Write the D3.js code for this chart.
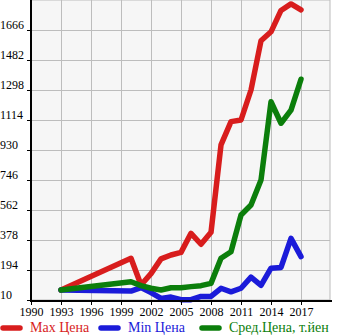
<!DOCTYPE html>
<html>
<head>
<meta charset="utf-8">
<script src="https://cdn.jsdelivr.net/npm/d3@7"></script>
<style>
  html, body { margin: 0; padding: 0; background: #fff; }
  svg { display: block; font-family: "Liberation Serif", "Times New Roman", serif; }
</style>
</head>
<body>
<svg id="chart" width="345" height="335"></svg>
<script>
// Price history by model year
const years = [1993, 2000, 2001, 2002, 2003, 2004, 2005, 2006, 2007, 2008, 2009, 2010, 2011, 2012, 2013, 2014, 2015, 2016, 2017];
const maxPrice = [71, 266, 102, 172, 262, 286, 302, 419, 352, 425, 961, 1104, 1114, 1298, 1600, 1655, 1786, 1826, 1789];
const minPrice = [71, 65, 86, 55, 20, 28, 12, 12, 32, 32, 82, 60, 82, 150, 100, 205, 210, 388, 276];
const avgPrice = [71, 122, 98, 82, 71, 85, 85, 92, 98, 112, 266, 306, 531, 593, 746, 1226, 1094, 1175, 1364];

const xTicks = [1990, 1993, 1996, 1999, 2002, 2005, 2008, 2011, 2014, 2017];
const yTicks = [10, 194, 378, 562, 746, 930, 1114, 1298, 1482, 1666];

const seriesNames = ["Max Цена", "Min Цена", "Сред.Цена, т.йен"];
const seriesColors = ["#d81d1d", "#1b1bd9", "#0b7e0b"];

const svg = d3.select("#chart");
const plotL = 31, plotR = 330, plotT = 0, plotB = 300;

const x = d3.scaleLinear().domain([1990, 2019.9]).range([plotL, plotR]);
const y = d3.scaleLinear().domain([10, 1850]).range([plotB, plotT]);

// plot background
svg.append("rect")
  .attr("x", plotL).attr("y", plotT)
  .attr("width", plotR - plotL).attr("height", plotB - plotT)
  .attr("fill", "#f6f6f6").attr("stroke", "#bbb").attr("stroke-width", 1);

// grid
const grid = svg.append("g").attr("stroke", "#bdbdbd").attr("stroke-width", 1).attr("shape-rendering", "crispEdges");
xTicks.forEach(t => grid.append("line")
  .attr("x1", Math.round(x(t)) + 0.5).attr("x2", Math.round(x(t)) + 0.5)
  .attr("y1", plotT).attr("y2", plotB));
yTicks.forEach(t => grid.append("line")
  .attr("x1", plotL).attr("x2", plotR)
  .attr("y1", Math.round(y(t)) + 0.5).attr("y2", Math.round(y(t)) + 0.5));

// series lines
const line = d3.line().x((d, i) => x(years[i])).y(d => y(d));
[maxPrice, minPrice, avgPrice].forEach((vals, k) => {
  svg.append("path")
    .datum(vals)
    .attr("d", line)
    .attr("fill", "none")
    .attr("stroke", seriesColors[k])
    .attr("stroke-width", 5.5)
    .attr("stroke-linejoin", "round")
    .attr("stroke-linecap", "round");
});

// axes
const xAxis = d3.axisBottom(x).tickValues(xTicks).tickFormat(d3.format("d")).tickSize(4).tickPadding(2);
const gx = svg.append("g").attr("transform", `translate(0,${plotB + 1})`).call(xAxis);
gx.select(".domain").attr("stroke", "#000").attr("stroke-width", 2).attr("d", `M${plotL - 1},0H${plotR + 2}`);
gx.selectAll(".tick line").attr("stroke", "#000");
gx.selectAll(".tick text")
  .attr("font-family", "Liberation Serif, serif")
  .attr("font-size", 12).attr("fill", "#000");

const yAxis = d3.axisLeft(y).tickValues(yTicks).tickSize(4).tickFormat(d3.format("d"));
const gy = svg.append("g").attr("transform", `translate(${plotL},0)`).call(yAxis);
gy.select(".domain").attr("stroke", "#000").attr("stroke-width", 2).attr("d", `M0,${plotT}V${plotB + 2}`);
gy.selectAll(".tick line").attr("stroke", "#000");
gy.selectAll(".tick text")
  .attr("font-family", "Liberation Serif, serif")
  .attr("font-size", 12).attr("fill", "#000")
  .attr("text-anchor", "start")
  .attr("x", -plotL)
  .attr("dy", "-0.1em");

// legend
const legendPos = [0, 98, 199];
const lg = svg.append("g");
seriesNames.forEach((name, k) => {
  const lx = legendPos[k];
  lg.append("line")
    .attr("x1", lx + 3).attr("x2", lx + 20)
    .attr("y1", 328).attr("y2", 328)
    .attr("stroke", seriesColors[k]).attr("stroke-width", 5.5)
    .attr("stroke-linecap", "round");
  lg.append("text")
    .attr("x", lx + 30).attr("y", 332)
    .attr("font-size", 14)
    .attr("fill", seriesColors[k])
    .text(name);
});
</script>
</body>
</html>
